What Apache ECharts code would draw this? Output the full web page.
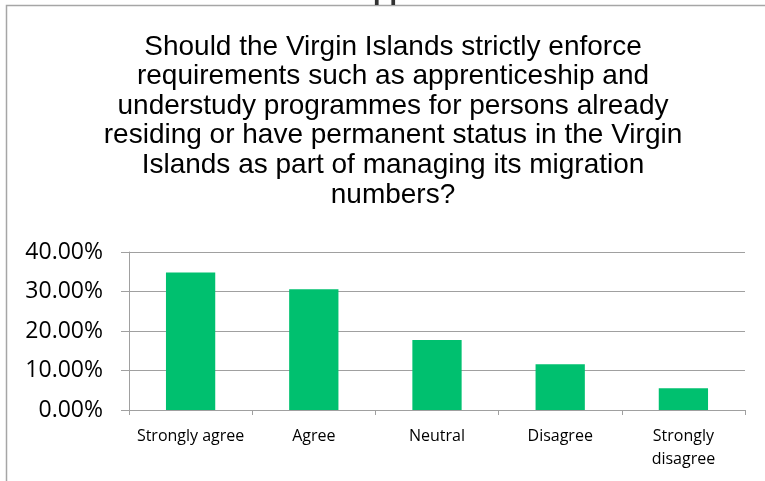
<!DOCTYPE html>
<html>
<head>
<meta charset="utf-8">
<style>
  html, body { margin: 0; padding: 0; background: #fff; }
  #chart { width: 765px; height: 481px; }
</style>
<script src="https://cdn.jsdelivr.net/npm/echarts@6/dist/echarts.min.js"></script>
</head>
<body>
<div id="chart"></div>
<script>
// Survey responses: share of respondents per answer
const categories = ['Strongly agree', 'Agree', 'Neutral', 'Disagree', 'Strongly\ndisagree'];
const shares = [0.348, 0.306, 0.177, 0.116, 0.055];
const yTicks = { min: 0, max: 0.4, interval: 0.1 };

const titleText = 'Should the Virgin Islands strictly enforce\n' +
  'requirements such as apprenticeship and\n' +
  'understudy programmes for persons already\n' +
  'residing or have permanent status in the Virgin\n' +
  'Islands as part of managing its migration\n' +
  'numbers?';

const chart = echarts.init(document.getElementById('chart'), null, { renderer: 'canvas' });

chart.setOption({
  animation: false,
  backgroundColor: '#ffffff',
  title: {
    text: titleText,
    left: 388,
    top: 27,
    textAlign: 'center',
    textStyle: {
      fontFamily: 'Liberation Sans, Arial, sans-serif',
      fontSize: 28,
      fontWeight: 'normal',
      color: '#000000',
      lineHeight: 29.6
    }
  },
  graphic: [
    // frame of the chart area
    {
      type: 'polyline',
      shape: { points: [[6.5, 481], [6.5, 5.5], [765, 5.5]] },
      style: { stroke: '#a6a6a6', lineWidth: 1.5, fill: null },
      silent: true
    },
    // heading of the page above, clipped at the top edge
    {
      type: 'text',
      left: 373,
      top: -22,
      style: {
        text: 'pp',
        font: 'bold 27px Liberation Sans, Arial, sans-serif',
        fill: '#333333'
      },
      silent: true
    }
  ],
  grid: {
    left: 129,
    right: 20,
    top: 252,
    bottom: 71,
    containLabel: false
  },
  xAxis: {
    type: 'category',
    data: categories,
    axisLine: { show: true, lineStyle: { color: '#a0a0a0', width: 1 } },
    axisTick: { show: true, alignWithLabel: false, length: 5, lineStyle: { color: '#a0a0a0' } },
    axisLabel: {
      interval: 0,
      margin: 15,
      fontFamily: 'Open Sans, Lato, sans-serif',
      fontSize: 16,
      lineHeight: 23,
      color: '#000000'
    }
  },
  yAxis: {
    type: 'value',
    min: yTicks.min,
    max: yTicks.max,
    interval: yTicks.interval,
    axisLine: { show: true, lineStyle: { color: '#a0a0a0', width: 1 } },
    axisTick: { show: true, length: 8, lineStyle: { color: '#a0a0a0' } },
    splitLine: { show: true, lineStyle: { color: '#a0a0a0', width: 1 } },
    axisLabel: {
      margin: 26,
      fontFamily: 'Open Sans, Lato, sans-serif',
      fontSize: 23,
      color: '#000000',
      formatter: v => (v * 100).toFixed(2) + '%'
    }
  },
  series: [{
    type: 'bar',
    data: shares,
    barWidth: '40%',
    itemStyle: { color: '#00c06f' },
    silent: true
  }]
});
</script>
</body>
</html>
